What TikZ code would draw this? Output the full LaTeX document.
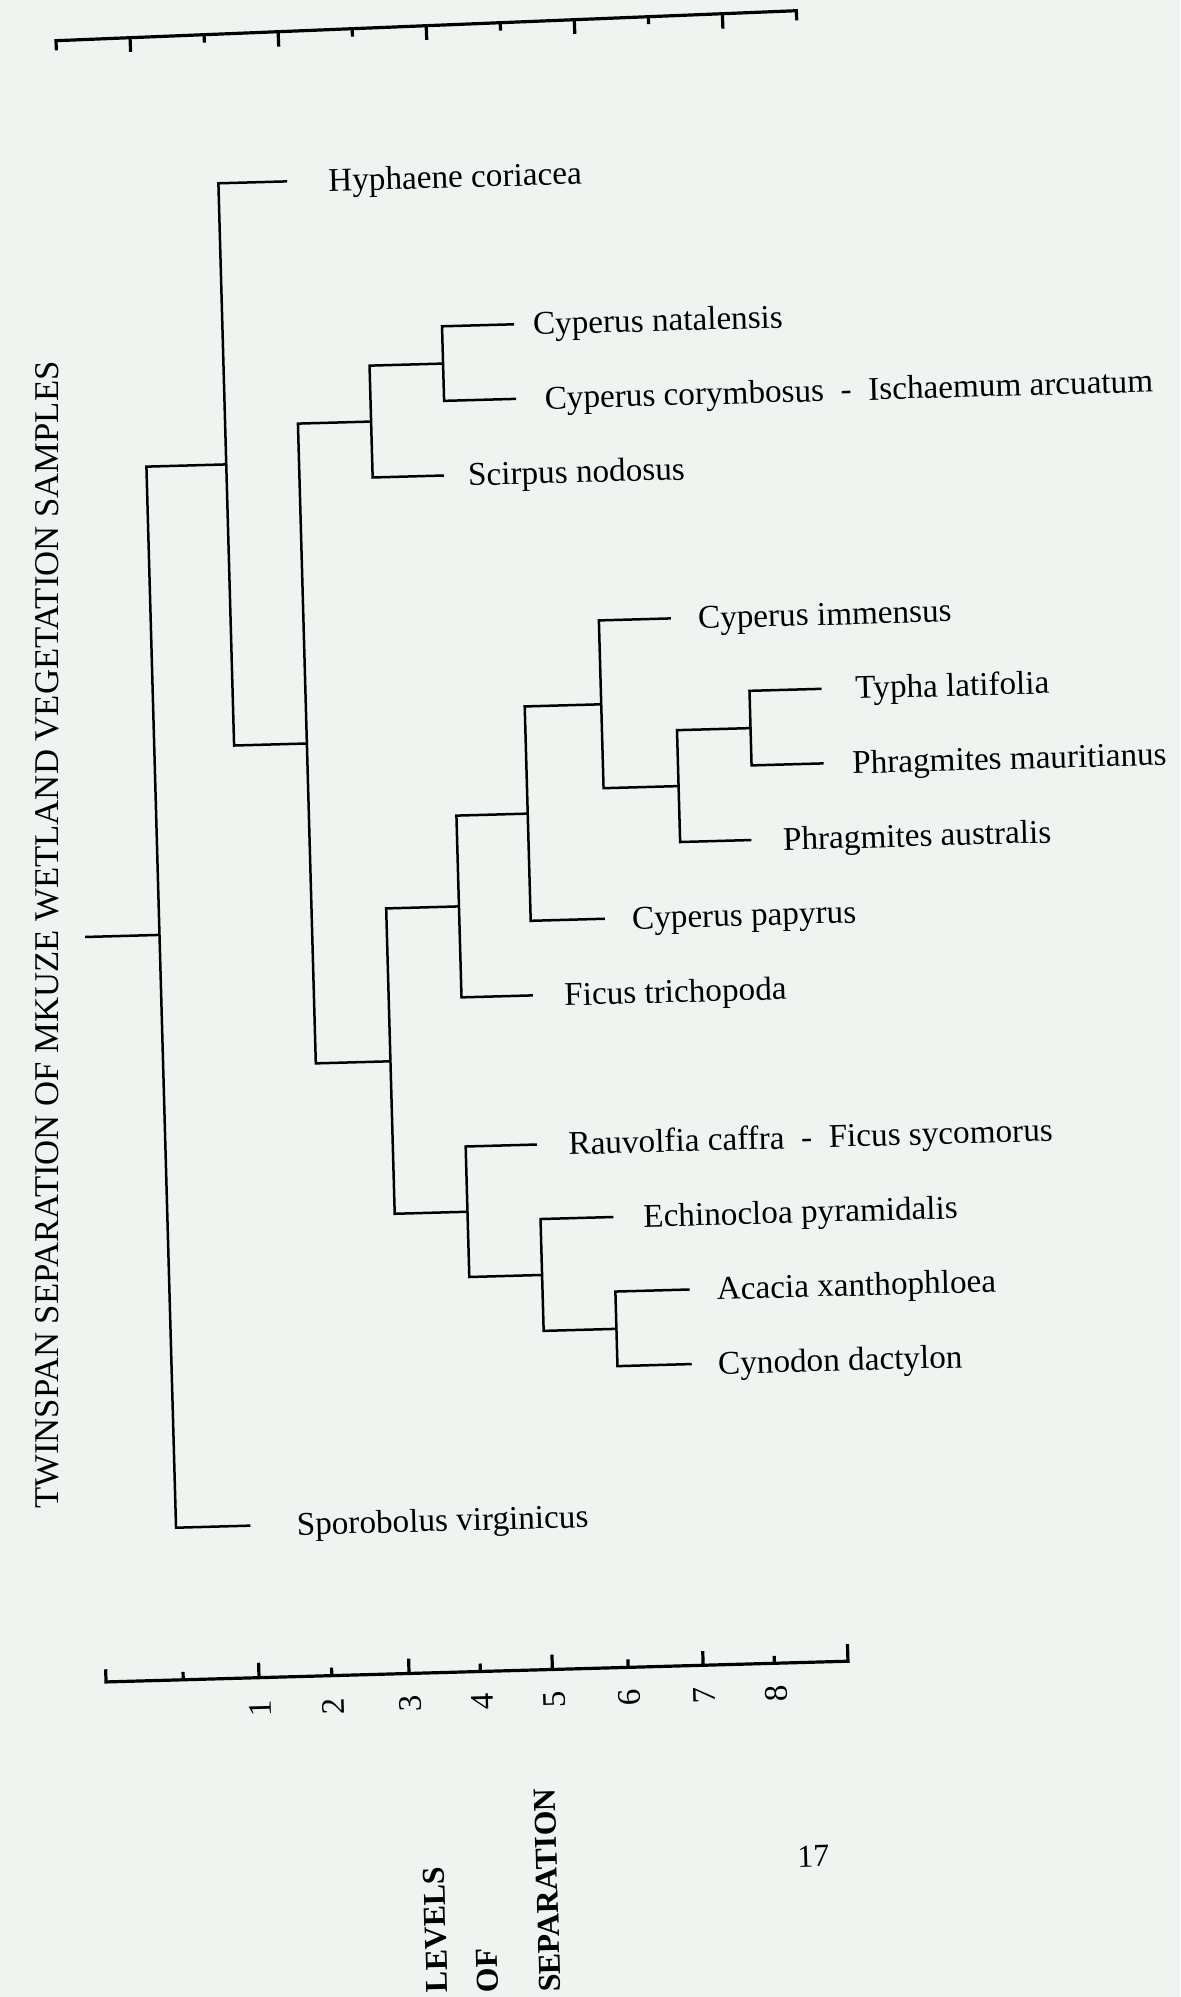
\documentclass[tikz,border=0pt]{standalone}
\usepackage{fontspec}
\setmainfont{Liberation Serif}
\definecolor{paper}{RGB}{240,244,241}

\begin{document}
\begin{tikzpicture}[x=0.5pt, y=-0.5pt,
    branch/.style={line width=1.25pt},
    scalebar/.style={line width=1.6pt},
    taxon/.style={anchor=west, inner sep=0pt, text height=11pt, text depth=0pt, font=\fontsize{16.6}{20}\selectfont},
    levelno/.style={inner sep=0pt, text height=10.9pt, text depth=0pt, rotate=90, font=\fontsize{16.5}{19}\selectfont},
    heading/.style={inner sep=0pt, text height=11.5pt, text depth=0pt, font=\fontsize{17.35}{20}\selectfont},
    axisname/.style={anchor=west, inner sep=0pt, text height=10.5pt, text depth=0pt, rotate=90, font=\bfseries\fontsize{15.9}{19}\selectfont}]
  \fill[paper] (0,0) rectangle (1180,1997);
  \useasboundingbox (0,0) rectangle (1180,1997);
  \begin{scope}[shift={(56,40.7)}, rotate=2.32, x=37.05pt, y=-37.3pt]
    \draw[scalebar] (0,0.13) -- (0,0) -- (10,0) -- (10,0.13);
    \foreach \k/\len in {1/0.19,2/0.107,3/0.2,4/0.107,5/0.19,6/0.107,7/0.19,8/0.1,9/0.2}
      \draw[scalebar] (\k,0) -- ++(0,\len);
  \end{scope}
  \node[heading, rotate=90] (title) at (47,935) {TWINSPAN SEPARATION OF MKUZE WETLAND VEGETATION SAMPLES};
  \begin{scope}[shift={(64.3,187.6)}, rotate=1.6, x=37.15pt, y=-37.3pt, transform shape]
    \coordinate (eHyp) at (3,0);
    \coordinate (eNat) at (6,2);
    \coordinate (eCor) at (6,3);
    \coordinate (eSci) at (5,4);
    \coordinate (eImm) at (8,6);
    \coordinate (eTyp) at (10,7);
    \coordinate (eMau) at (10,8);
    \coordinate (eAus) at (9,9);
    \coordinate (ePap) at (7,10);
    \coordinate (eTri) at (6,11);
    \coordinate (eRau) at (6,13);
    \coordinate (eEch) at (7,14);
    \coordinate (eAca) at (8,15);
    \coordinate (eCyn) at (8,16);
    \coordinate (eSpo) at (2,18);

    \node[taxon] (hyp) at (3.55,0) {Hyphaene coriacea};
    \node[taxon] (nat) at (6.25,2) {Cyperus natalensis};
    \node[taxon] (cor) at (6.38,3) {Cyperus corymbosus\enskip-\enskip Ischaemum arcuatum};
    \node[taxon] (sci) at (5.32,4) {Scirpus nodosus};
    \node[taxon] (imm) at (8.36,6) {Cyperus immensus};
    \node[taxon] (typ) at (10.45,7) {Typha latifolia};
    \node[taxon] (mau) at (10.38,8) {Phragmites mauritianus};
    \node[taxon] (aus) at (9.42,9) {Phragmites australis};
    \node[taxon] (pap) at (7.36,10) {Cyperus papyrus};
    \node[taxon] (tri) at (6.42,11) {Ficus trichopoda};
    \node[taxon] (rau) at (6.42,13) {Rauvolfia caffra\enskip-\enskip Ficus sycomorus};
    \node[taxon] (ech) at (7.40,14) {Echinocloa pyramidalis};
    \node[taxon] (aca) at (8.36,15) {Acacia xanthophloea};
    \node[taxon] (cyn) at (8.35,16) {Cynodon dactylon};
    \node[taxon] (spo) at (2.62,18) {Sporobolus virginicus};

    \coordinate (nK) at (9.03,7.5);
    \coordinate (nJ) at (8.04,8.25);
    \coordinate (nI) at (7.03,7.125);
    \coordinate (nH) at (6,8.5625);
    \coordinate (nF) at (5.04,9.78);
    \coordinate (nM) at (7,15.5);
    \coordinate (nL) at (6.02,14.75);
    \coordinate (nG) at (5.04,13.875);
    \coordinate (nD) at (4.06,11.83);
    \coordinate (nE) at (5.03,2.5);
    \coordinate (nC) at (4.04,3.25);
    \coordinate (nB) at (3.055,7.54);
    \coordinate (nA) at (2.075,3.77);
    \coordinate (root) at (1,10.05);
    \coordinate (stub) at (0,10.05);

    \draw[branch] (eTyp) -| (nK) |- (eMau);
    \draw[branch] (nK) -| (nJ) |- (eAus);
    \draw[branch] (eImm) -| (nI) |- (nJ);
    \draw[branch] (nI) -| (nH) |- (ePap);
    \draw[branch] (nH) -| (nF) |- (eTri);
    \draw[branch] (eAca) -| (nM) |- (eCyn);
    \draw[branch] (eEch) -| (nL) |- (nM);
    \draw[branch] (eRau) -| (nG) |- (nL);
    \draw[branch] (nF) -| (nD) |- (nG);
    \draw[branch] (eNat) -| (nE) |- (eCor);
    \draw[branch] (nE) -| (nC) |- (eSci);
    \draw[branch] (nC) -| (nB) |- (nD);
    \draw[branch] (eHyp) -| (nA) |- (nB);
    \draw[branch] (nA) -| (root) |- (eSpo);
    \draw[branch] (stub) -- (root);

    \draw[scalebar] (0,19.87) -- (0,20.04) -- (9.99,20.04) -- (9.99,19.81);
    \foreach \k/\len in {1.04/0.107,2.06/0.2,3.04/0.107,4.08/0.2,5.04/0.107,6.01/0.2,7.03/0.107,8.04/0.19,9/0.1}
      \draw[scalebar] (\k,20.04) -- ++(0,-\len);
    \foreach \k [count=\n] in {2.06,3.04,4.08,5.04,6.01,7.03,8.04,9.0}
      \node[levelno] (lv\n) at (\k+0.01,20.45) {\n};

    \node[axisname] (levels) at (4.34,24.33) {LEVELS};
    \node[axisname] (of) at (5.02,24.35) {OF};
    \node[axisname] (sepn) at (5.86,24.37) {SEPARATION};
    \node[inner sep=0pt, font=\fontsize{16}{19}\selectfont] (folio) at (9.45,22.64) {17};
  \end{scope}
\end{tikzpicture}
\end{document}
